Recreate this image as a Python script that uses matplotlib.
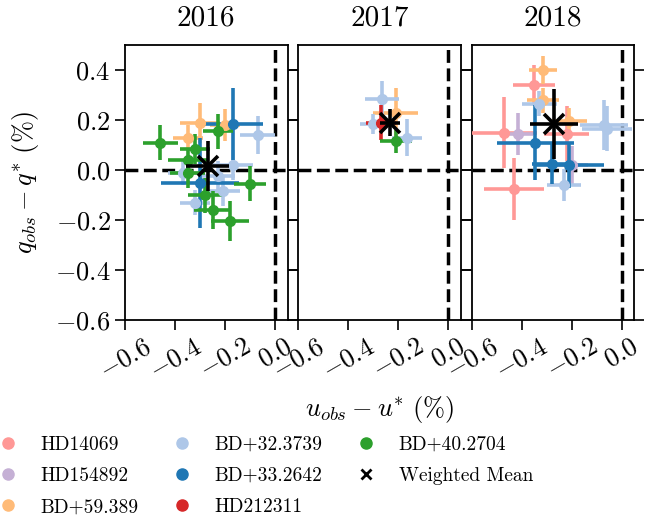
import numpy as np
import matplotlib
matplotlib.use("Agg")
import matplotlib.pyplot as plt
from matplotlib.lines import Line2D

# computer modern look without usetex
plt.rcParams['font.family'] = ['cmr10']
plt.rcParams['mathtext.fontset'] = 'cm'
plt.rcParams['axes.formatter.use_mathtext'] = True

# star names and colours (legend order)
stars = ['HD14069', 'HD154892', 'BD+59.389', 'BD+32.3739',
         'BD+33.2642', 'HD212311', 'BD+40.2704']
colors = ['#ff9896', '#c5b0d5', '#ffbb78', '#aec7e8',
          '#1f77b4', '#d62728', '#2ca02c']
years = ['2016', '2017', '2018']

# 2016 observations: star, u, q, u error, q error (in %)
star_2016 = ['BD+59.389', 'BD+59.389', 'BD+59.389',
             'BD+32.3739', 'BD+32.3739', 'BD+32.3739', 'BD+32.3739', 'BD+32.3739', 'BD+32.3739',
             'BD+33.2642', 'BD+33.2642',
             'BD+40.2704', 'BD+40.2704', 'BD+40.2704', 'BD+40.2704', 'BD+40.2704',
             'BD+40.2704', 'BD+40.2704', 'BD+40.2704', 'BD+40.2704']
u_2016 = [-0.30, -0.35, -0.20,
          -0.07, -0.37, -0.21, -0.32, -0.23, -0.17,
          -0.17, -0.30,
          -0.46, -0.23, -0.32, -0.35, -0.10, -0.28, -0.25, -0.18, -0.35]
q_2016 = [0.19, 0.13, 0.18,
          0.14, -0.01, -0.085, -0.13, -0.025, 0.02,
          0.185, -0.05,
          0.11, 0.155, 0.085, -0.01, -0.055, -0.10, -0.16, -0.205, 0.04]
ue_2016 = [0.08, 0.06, 0.06,
           0.07, 0.06, 0.07, 0.06, 0.07, 0.08,
           0.12, 0.155,
           0.07, 0.06, 0.06, 0.07, 0.065, 0.07, 0.075, 0.075, 0.08]
qe_2016 = [0.08, 0.05, 0.065,
           0.075, 0.05, 0.06, 0.05, 0.06, 0.06,
           0.145, 0.18,
           0.07, 0.07, 0.06, 0.06, 0.07, 0.07, 0.075, 0.08, 0.05]

# 2017 observations
star_2017 = ['BD+59.389', 'BD+32.3739', 'BD+32.3739', 'BD+32.3739', 'HD212311', 'BD+40.2704']
u_2017 = [-0.21, -0.265, -0.30, -0.165, -0.27, -0.21]
q_2017 = [0.23, 0.285, 0.185, 0.13, 0.19, 0.115]
ue_2017 = [0.09, 0.067, 0.055, 0.06, 0.06, 0.065]
qe_2017 = [0.10, 0.073, 0.04, 0.073, 0.07, 0.045]

# 2018 observations
star_2018 = ['HD14069', 'HD14069', 'HD14069', 'HD14069',
             'HD154892', 'HD154892',
             'BD+59.389', 'BD+59.389', 'BD+59.389',
             'BD+32.3739', 'BD+32.3739', 'BD+32.3739', 'BD+32.3739',
             'BD+33.2642', 'BD+33.2642', 'BD+33.2642']
u_2018 = [-0.35, -0.47, -0.22, -0.43,
          -0.415, -0.20,
          -0.315, -0.315, -0.21,
          -0.33, -0.07, -0.06, -0.23,
          -0.345, -0.28, -0.21]
q_2018 = [0.34, 0.15, 0.145, -0.075,
          0.145, 0.02,
          0.40, 0.28, 0.195,
          0.265, 0.18, 0.165, -0.06,
          0.11, 0.025, 0.02]
ue_2018 = [0.085, 0.13, 0.09, 0.12,
           0.06, 0.065,
           0.057, 0.065, 0.07,
           0.07, 0.095, 0.10, 0.068,
           0.155, 0.08, 0.14]
qe_2018 = [0.08, 0.14, 0.11, 0.125,
           0.085, 0.075,
           0.057, 0.05, 0.055,
           0.05, 0.10, 0.09, 0.063,
           0.15, 0.08, 0.09]

# weighted mean per year
mean_u = [-0.27, -0.235, -0.27]
mean_q = [0.015, 0.19, 0.183]
mean_ue = [0.087, 0.04, 0.097]
mean_qe = [0.10, 0.053, 0.14]

data = [(star_2016, u_2016, q_2016, ue_2016, qe_2016),
        (star_2017, u_2017, q_2017, ue_2017, qe_2017),
        (star_2018, u_2018, q_2018, ue_2018, qe_2018)]

fig = plt.figure(figsize=(6.49, 5.16), dpi=100)
W, H = 649.0, 516.0
lefts = [125, 298.3, 471.7]
axes = []
for i in range(3):
    ax = fig.add_axes([lefts[i] / W, 196 / H, 162.5 / W, 275 / H])
    axes.append(ax)
    star, u, q, ue, qe = data[i]
    # draw star by star so the colour order follows the legend
    for s, c in zip(stars, colors):
        idx = [k for k in range(len(star)) if star[k] == s]
        if len(idx) == 0:
            continue
        ax.errorbar(np.array(u)[idx], np.array(q)[idx],
                    xerr=np.array(ue)[idx], yerr=np.array(qe)[idx],
                    fmt='o', color=c, ms=7, elinewidth=2.6, capsize=0, zorder=3)
    ax.errorbar(mean_u[i], mean_q[i], xerr=mean_ue[i], yerr=mean_qe[i],
                fmt='x', color='k', ms=14, mew=2.6, elinewidth=2.6, capsize=0, zorder=5)
    ax.axhline(0, color='k', ls='--', lw=2.5, zorder=2)
    ax.axvline(0, color='k', ls='--', lw=2.5, zorder=2)
    ax.set_xlim(-0.6, 0.05)
    ax.set_ylim(-0.6, 0.5)
    ax.set_xticks([-0.6, -0.4, -0.2, 0.0])
    ax.set_yticks([-0.6, -0.4, -0.2, 0.0, 0.2, 0.4])
    ax.tick_params(direction='out', length=7, width=1.2, right=True, labelsize=19)
    for lab in ax.get_xticklabels():
        lab.set_rotation(30)
    if i > 0:
        ax.tick_params(labelleft=False)
    for sp in ax.spines.values():
        sp.set_linewidth(1.3)
    ax.set_title(years[i], fontsize=21, pad=14)

axes[0].set_ylabel(r'$q_{obs} - q^{*}\ (\%)$', fontsize=19, labelpad=10)
axes[1].set_xlabel(r'$u_{obs} - u^{*}\ (\%)$', fontsize=19, labelpad=8)

# legend with plain markers
handles = [Line2D([], [], ls='none', marker='o', color=c, ms=8) for c in colors]
handles.append(Line2D([], [], ls='none', marker='x', color='k', ms=7, mew=2))
fig.legend(handles, stars + ['Weighted Mean'], loc='upper left',
           bbox_to_anchor=(-0.003, 1 - 436 / H), ncol=3, frameon=False,
           fontsize=14, handlelength=1.0, handletextpad=1.2,
           columnspacing=1.7, labelspacing=0.68, borderpad=0, borderaxespad=0)

fig.savefig('out.png', dpi=100)
